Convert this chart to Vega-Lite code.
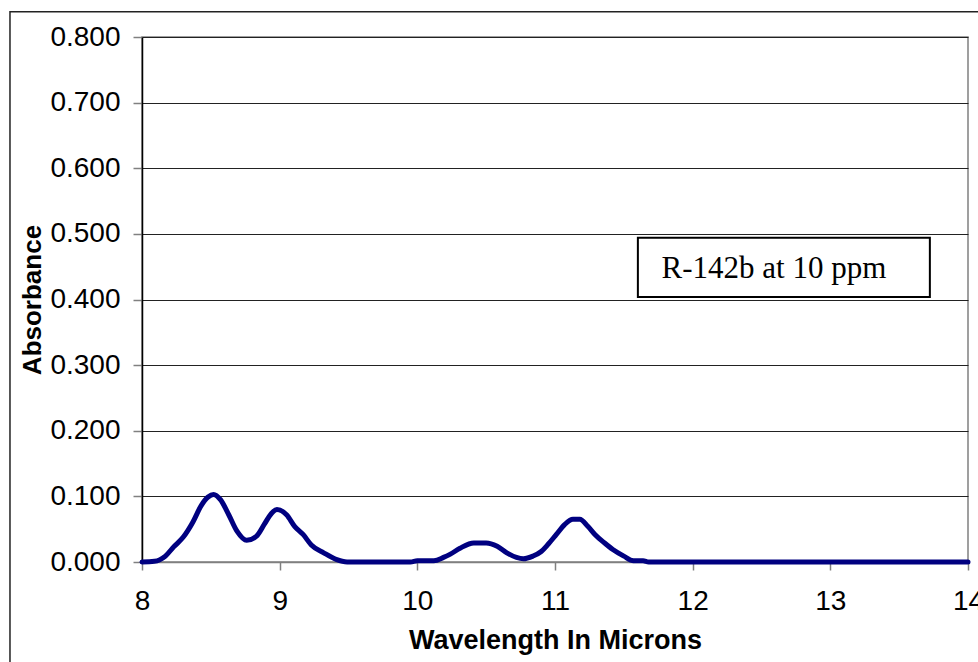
{
  "$schema": "https://vega.github.io/schema/vega-lite/v6.json",
  "width": 826,
  "height": 525,
  "autosize": "none",
  "padding": {"left": 142, "top": 37, "right": 10, "bottom": 100},
  "background": "white",
  "config": {
    "view": {"stroke": "#808080", "strokeWidth": 1.5},
    "font": "Liberation Sans"
  },
  "layer": [
    {
      "data": {
        "values": [
          {"wavelength": 8.00, "absorbance": 0.000},
          {"wavelength": 8.09, "absorbance": 0.001},
          {"wavelength": 8.17, "absorbance": 0.009},
          {"wavelength": 8.23, "absorbance": 0.023},
          {"wavelength": 8.30, "absorbance": 0.038},
          {"wavelength": 8.37, "absorbance": 0.061},
          {"wavelength": 8.43, "absorbance": 0.086},
          {"wavelength": 8.48, "absorbance": 0.099},
          {"wavelength": 8.52, "absorbance": 0.103},
          {"wavelength": 8.57, "absorbance": 0.095},
          {"wavelength": 8.63, "absorbance": 0.072},
          {"wavelength": 8.69, "absorbance": 0.047},
          {"wavelength": 8.76, "absorbance": 0.033},
          {"wavelength": 8.83, "absorbance": 0.039},
          {"wavelength": 8.89, "absorbance": 0.058},
          {"wavelength": 8.94, "absorbance": 0.074},
          {"wavelength": 8.98, "absorbance": 0.080},
          {"wavelength": 9.05, "absorbance": 0.072},
          {"wavelength": 9.11, "absorbance": 0.054},
          {"wavelength": 9.17, "absorbance": 0.042},
          {"wavelength": 9.23, "absorbance": 0.026},
          {"wavelength": 9.32, "absorbance": 0.014},
          {"wavelength": 9.41, "absorbance": 0.004},
          {"wavelength": 9.49, "absorbance": 0.000},
          {"wavelength": 9.95, "absorbance": 0.000},
          {"wavelength": 10.00, "absorbance": 0.002},
          {"wavelength": 10.12, "absorbance": 0.002},
          {"wavelength": 10.19, "absorbance": 0.007},
          {"wavelength": 10.24, "absorbance": 0.012},
          {"wavelength": 10.31, "absorbance": 0.021},
          {"wavelength": 10.41, "absorbance": 0.029},
          {"wavelength": 10.50, "absorbance": 0.029},
          {"wavelength": 10.58, "absorbance": 0.024},
          {"wavelength": 10.65, "absorbance": 0.014},
          {"wavelength": 10.72, "absorbance": 0.007},
          {"wavelength": 10.77, "absorbance": 0.005},
          {"wavelength": 10.84, "absorbance": 0.009},
          {"wavelength": 10.90, "absorbance": 0.016},
          {"wavelength": 10.95, "absorbance": 0.027},
          {"wavelength": 11.01, "absorbance": 0.042},
          {"wavelength": 11.07, "absorbance": 0.057},
          {"wavelength": 11.13, "absorbance": 0.065},
          {"wavelength": 11.18, "absorbance": 0.065},
          {"wavelength": 11.24, "absorbance": 0.054},
          {"wavelength": 11.29, "absorbance": 0.042},
          {"wavelength": 11.36, "absorbance": 0.029},
          {"wavelength": 11.42, "absorbance": 0.019},
          {"wavelength": 11.50, "absorbance": 0.009},
          {"wavelength": 11.57, "absorbance": 0.002},
          {"wavelength": 11.64, "absorbance": 0.002},
          {"wavelength": 11.68, "absorbance": 0.000},
          {"wavelength": 14.00, "absorbance": 0.000}
        ]
      },
      "mark": {"type": "line", "color": "#000080", "strokeWidth": 5, "interpolate": "monotone", "strokeJoin": "round", "strokeCap": "round"},
      "encoding": {
        "x": {
          "field": "wavelength",
          "type": "quantitative",
          "scale": {"domain": [8, 14], "nice": false, "zero": false},
          "axis": {
            "title": "Wavelength In Microns",
            "values": [8, 9, 10, 11, 12, 13, 14],
            "format": "d",
            "grid": false,
            "domainColor": "#808080",
            "domainWidth": 1.5,
            "tickColor": "#808080",
            "tickWidth": 1.5,
            "tickSize": 8,
            "labelFont": "Liberation Sans",
            "labelFontSize": 28,
            "labelColor": "black",
            "labelPadding": 17,
            "labelFlush": false,
            "labelOverlap": false,
            "titleFont": "Liberation Sans",
            "titleFontSize": 27,
            "titleFontWeight": "bold",
            "titleColor": "black",
            "titlePadding": 12
          }
        },
        "y": {
          "field": "absorbance",
          "type": "quantitative",
          "scale": {"domain": [0, 0.8], "nice": false, "zero": false},
          "axis": {
            "title": "Absorbance",
            "values": [0, 0.1, 0.2, 0.3, 0.4, 0.5, 0.6, 0.7, 0.8],
            "format": ".3f",
            "grid": true,
            "gridColor": "#222222",
            "gridWidth": 1,
            "gridOpacity": 1,
            "domainColor": "black",
            "domainWidth": 1.5,
            "tickColor": "#808080",
            "tickWidth": 1.5,
            "tickSize": 9,
            "labelFont": "Liberation Sans",
            "labelFontSize": 28,
            "labelColor": "black",
            "labelPadding": 13,
            "labelFlush": false,
            "labelOverlap": false,
            "titleFont": "Liberation Sans",
            "titleFontSize": 26,
            "titleFontWeight": "bold",
            "titleColor": "black",
            "titlePadding": 4
          }
        }
      }
    },
    {
      "data": {"values": [{}]},
      "mark": {"type": "rect", "fill": "white", "stroke": "black", "strokeWidth": 2},
      "encoding": {
        "x": {"datum": 11.602, "type": "quantitative"},
        "x2": {"datum": 13.723},
        "y": {"datum": 0.494, "type": "quantitative"},
        "y2": {"datum": 0.404}
      }
    },
    {
      "data": {"values": [{}]},
      "mark": {"type": "text", "text": "R-142b at 10 ppm", "font": "Liberation Serif", "fontSize": 31, "fill": "black", "align": "center", "baseline": "middle"},
      "encoding": {
        "x": {"datum": 12.59, "type": "quantitative"},
        "y": {"datum": 0.447, "type": "quantitative"}
      }
    },
    {
      "data": {"values": [{}]},
      "mark": {"type": "rect", "fill": "transparent", "stroke": "#222222", "strokeWidth": 1.5},
      "encoding": {
        "x": {"datum": 7.041, "type": "quantitative"},
        "x2": {"datum": 14.3},
        "y": {"datum": 0.8384, "type": "quantitative"},
        "y2": {"datum": -0.3}
      }
    }
  ]
}
